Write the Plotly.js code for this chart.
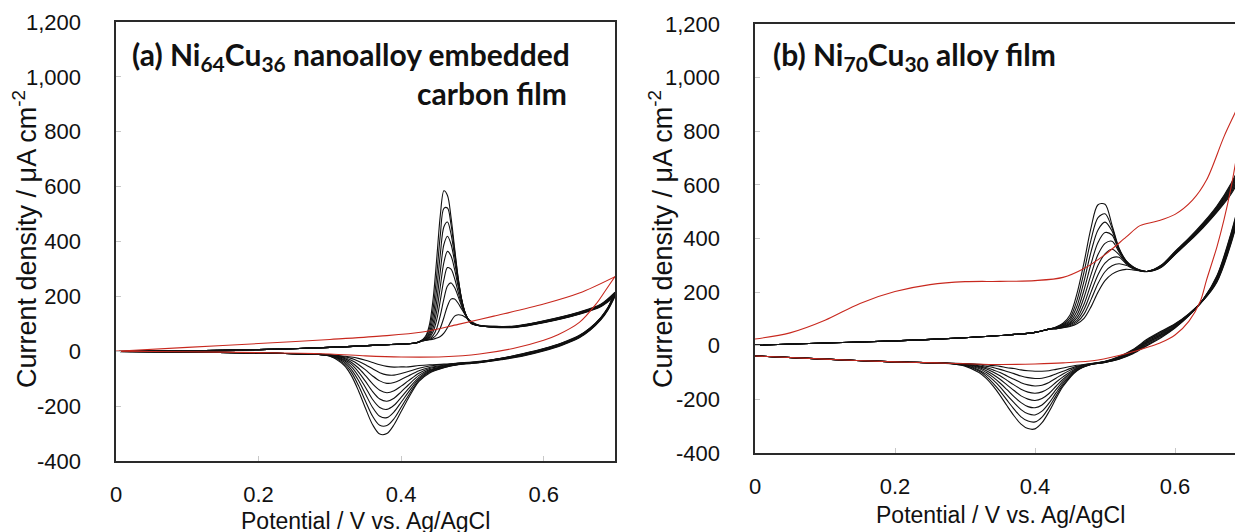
<!DOCTYPE html>
<html>
<head>
<meta charset="utf-8">
<script src="https://cdn.plot.ly/plotly-3.0.1.min.js"></script>
<style>html,body{margin:0;padding:0;background:#fff;}#chart{width:1235px;height:532px;}</style>
</head>
<body>
<div id="chart"></div>
<script>
// ---------- Panel (a): Ni64Cu36 nanoalloy embedded carbon film ----------
const aFwdV = [0, 0.1, 0.2, 0.3, 0.38, 0.42, 0.43, 0.435, 0.44, 0.445, 0.45, 0.455, 0.46, 0.465, 0.47, 0.475, 0.48, 0.485, 0.49, 0.495, 0.5, 0.51, 0.53, 0.56, 0.6, 0.65, 0.68, 0.7];
const aFwd1 = [-1, 2, 6, 14, 24, 30, 42, 58, 101, 194, 340, 497, 585, 568, 488, 376, 268, 186, 135, 110, 98, 93, 87, 87, 104, 135, 162, 200];
const aFwd2 = [-1, 2, 6, 14, 24, 30, 41, 53, 85, 158, 280, 425, 521, 522, 461, 365, 266, 188, 138, 111, 99, 93, 88, 88, 105, 136, 164, 203];
const aFwd3 = [-1, 2, 6, 14, 24, 30, 40, 48, 72, 128, 228, 355, 454, 471, 427, 347, 259, 187, 139, 112, 100, 93, 88, 88, 106, 137, 165, 205];
const aFwd4 = [-1, 2, 6, 14, 24, 30, 39, 46, 63, 104, 184, 293, 389, 419, 390, 326, 250, 184, 139, 113, 101, 93, 89, 89, 106, 138, 166, 207];
const aFwd5 = [-1, 2, 6, 14, 24, 30, 39, 43, 56, 86, 147, 237, 324, 364, 347, 298, 236, 179, 138, 113, 101, 93, 89, 90, 107, 139, 167, 209];
const aFwd6 = [-1, 2, 6, 14, 24, 30, 38, 42, 51, 72, 116, 186, 261, 305, 299, 265, 216, 169, 134, 112, 101, 93, 90, 90, 108, 140, 168, 211];
const aFwd7 = [-1, 2, 6, 14, 24, 30, 38, 41, 46, 58, 84, 131, 191, 238, 249, 232, 199, 163, 133, 113, 102, 94, 90, 91, 109, 141, 169, 212];
const aFwd8 = [-1, 2, 6, 14, 24, 30, 38, 40, 43, 49, 61, 85, 123, 165, 190, 190, 175, 153, 132, 115, 103, 94, 91, 91, 110, 142, 170, 214];
const aFwd9 = [-1, 2, 6, 14, 24, 30, 38, 40, 42, 44, 48, 54, 66, 86, 109, 128, 133, 131, 124, 115, 106, 95, 91, 92, 111, 143, 171, 215];

const aRevV = [0.7, 0.69, 0.68, 0.665, 0.65, 0.625, 0.6, 0.57, 0.54, 0.51, 0.48, 0.46, 0.44, 0.425, 0.41, 0.4, 0.39, 0.38, 0.37, 0.36, 0.35, 0.34, 0.33, 0.32, 0.3, 0.28, 0.25, 0.2, 0.1, 0];
const aRev1 = [200, 150, 114, 76, 49, 21, 1, -18, -31, -42, -49, -60, -79, -110, -172, -220, -268, -300, -302, -268, -208, -143, -88, -51, -18, -11, -9, -6, -3, -1];
const aRev2 = [203, 152, 116, 78, 51, 23, 3, -16, -30, -41, -48, -59, -76, -106, -162, -204, -246, -271, -270, -237, -182, -124, -76, -45, -17, -11, -9, -6, -3, -1];
const aRev3 = [205, 153, 117, 79, 52, 24, 4, -15, -29, -40, -48, -57, -73, -101, -150, -186, -221, -242, -237, -205, -156, -106, -66, -39, -16, -11, -9, -6, -3, -1];
const aRev4 = [207, 154, 118, 80, 53, 25, 5, -14, -28, -40, -47, -56, -70, -95, -137, -168, -197, -212, -205, -176, -132, -90, -56, -34, -15, -11, -9, -6, -3, -1];
const aRev5 = [209, 155, 119, 81, 54, 26, 6, -13, -28, -39, -46, -55, -67, -88, -123, -148, -171, -182, -174, -147, -110, -75, -47, -30, -15, -11, -9, -6, -3, -1];
const aRev6 = [211, 156, 120, 82, 55, 27, 7, -12, -27, -39, -46, -53, -63, -80, -108, -127, -144, -151, -142, -119, -89, -61, -40, -26, -14, -11, -9, -6, -3, -1];
const aRev7 = [212, 157, 121, 83, 56, 28, 8, -11, -27, -38, -44, -51, -59, -71, -90, -103, -114, -117, -108, -90, -68, -48, -33, -23, -14, -11, -9, -6, -3, -1];
const aRev8 = [214, 158, 122, 84, 57, 29, 9, -10, -26, -38, -44, -49, -54, -62, -74, -81, -87, -86, -78, -64, -49, -36, -26, -20, -13, -11, -9, -6, -3, -1];
const aRev9 = [215, 159, 123, 85, 58, 30, 10, -9, -26, -37, -43, -47, -49, -52, -57, -57, -58, -55, -49, -41, -33, -26, -21, -18, -13, -11, -9, -6, -3, -1];

const aRedFwdV = [0, 0.1, 0.2, 0.3, 0.37, 0.43, 0.48, 0.53, 0.6, 0.65, 0.7];
const aRedFwdI = [0, 14, 28, 43, 55, 70, 98, 128, 172, 212, 272];
const aRedRevV = [0.7, 0.685, 0.674, 0.65, 0.62, 0.6, 0.557, 0.51, 0.46, 0.4, 0.35, 0.3, 0.2, 0.1, 0];
const aRedRevI = [272, 215, 174, 105, 60, 40, 10, -10, -20, -21, -17, -10, -5, -2, 0];

// ---------- Panel (b): Ni70Cu30 alloy film ----------
const bFwdV = [0, 0.1, 0.2, 0.3, 0.35, 0.4, 0.42, 0.43, 0.44, 0.45, 0.46, 0.47, 0.48, 0.49, 0.5, 0.51, 0.52, 0.53, 0.54, 0.55, 0.56, 0.58, 0.6, 0.62, 0.64, 0.66, 0.68, 0.7];
const bFwd1 = [2, 10, 18, 30, 38, 50, 62, 70, 84, 115, 195, 310, 440, 526, 528, 450, 365, 318, 295, 282, 277, 292, 340, 388, 440, 498, 565, 660];
const bFwd2 = [2, 10, 18, 30, 38, 50, 62, 69, 80, 104, 170, 275, 395, 478, 492, 440, 362, 317, 294, 282, 277, 293, 341, 390, 442, 501, 570, 667];
const bFwd3 = [2, 10, 18, 30, 38, 50, 62, 68, 77, 96, 148, 240, 350, 432, 461, 428, 358, 316, 293, 281, 277, 294, 343, 392, 444, 504, 575, 674];
const bFwd4 = [2, 10, 18, 30, 38, 50, 62, 67, 75, 90, 130, 208, 305, 385, 422, 413, 354, 314, 292, 281, 277, 295, 344, 394, 446, 507, 580, 681];
const bFwd5 = [2, 10, 18, 30, 38, 50, 62, 66, 73, 85, 115, 180, 265, 340, 382, 390, 350, 312, 291, 281, 277, 296, 346, 395, 448, 510, 585, 688];
const bFwd6 = [2, 10, 18, 30, 38, 50, 62, 65, 71, 81, 104, 155, 230, 300, 343, 360, 340, 309, 290, 280, 277, 297, 347, 397, 451, 513, 590, 695];
const bFwd7 = [2, 10, 18, 30, 38, 50, 62, 64, 69, 78, 95, 135, 200, 265, 308, 328, 330, 306, 289, 280, 277, 298, 349, 398, 453, 516, 595, 702];
const bFwd8 = [2, 10, 18, 30, 38, 50, 62, 64, 68, 75, 88, 118, 172, 232, 276, 298, 306, 300, 288, 280, 277, 299, 350, 400, 455, 519, 600, 709];
const bFwd9 = [2, 10, 18, 30, 38, 50, 62, 63, 67, 72, 82, 102, 145, 200, 243, 267, 280, 285, 283, 279, 276, 300, 352, 402, 458, 522, 605, 716];

const bRevV = [0.7, 0.69, 0.68, 0.66, 0.64, 0.62, 0.6, 0.58, 0.56, 0.54, 0.52, 0.5, 0.48, 0.46, 0.44, 0.43, 0.42, 0.41, 0.4, 0.39, 0.38, 0.37, 0.36, 0.35, 0.34, 0.33, 0.32, 0.3, 0.28, 0.26, 0.2, 0.1, 0];
const bRev1 = [660, 520, 420, 262, 172, 112, 66, 30, 0, -30, -50, -62, -70, -93, -152, -197, -246, -287, -310, -309, -292, -261, -224, -185, -150, -121, -100, -76, -67, -64, -60, -50, -38];
const bRev2 = [667, 515, 415, 259, 172, 113, 68, 33, 3, -28, -49, -62, -70, -92, -147, -187, -230, -266, -284, -281, -265, -236, -203, -169, -139, -113, -94, -74, -67, -64, -60, -50, -38];
const bRev3 = [674, 510, 410, 256, 171, 114, 70, 36, 6, -26, -48, -61, -69, -90, -140, -176, -214, -244, -258, -254, -238, -212, -184, -153, -127, -106, -90, -73, -66, -64, -60, -50, -38];
const bRev4 = [681, 505, 405, 253, 171, 115, 72, 39, 9, -24, -47, -61, -69, -88, -133, -164, -196, -221, -231, -227, -212, -190, -164, -139, -117, -99, -85, -71, -66, -64, -60, -50, -38];
const bRev5 = [688, 500, 400, 250, 170, 116, 74, 42, 12, -22, -46, -60, -69, -86, -125, -151, -178, -197, -204, -199, -187, -167, -146, -125, -107, -92, -81, -70, -66, -64, -60, -50, -38];
const bRev6 = [695, 495, 395, 247, 170, 117, 76, 45, 15, -20, -45, -60, -68, -83, -116, -136, -158, -172, -177, -173, -162, -146, -129, -112, -98, -86, -78, -69, -66, -64, -60, -50, -38];
const bRev7 = [702, 490, 390, 244, 169, 118, 78, 48, 18, -18, -44, -59, -68, -80, -105, -121, -137, -147, -150, -146, -138, -125, -113, -100, -90, -81, -75, -68, -65, -64, -60, -50, -38];
const bRev8 = [709, 485, 385, 241, 169, 119, 80, 51, 21, -16, -42, -59, -67, -77, -95, -105, -115, -121, -122, -119, -113, -104, -96, -88, -81, -76, -71, -67, -65, -64, -60, -50, -38];
const bRev9 = [716, 480, 380, 238, 168, 120, 82, 54, 24, -14, -40, -58, -66, -73, -83, -88, -93, -95, -95, -93, -90, -85, -82, -77, -74, -71, -69, -66, -65, -64, -60, -50, -38];

const bRedFwdV = [0, 0.05, 0.1, 0.15, 0.2, 0.25, 0.3, 0.35, 0.4, 0.44, 0.47, 0.5, 0.53, 0.55, 0.575, 0.6, 0.625, 0.645, 0.67, 0.686, 0.7];
const bRedFwdI = [25, 48, 95, 158, 202, 228, 239, 240, 243, 255, 288, 340, 405, 448, 465, 490, 543, 618, 780, 870, 950];
const bRedRevV = [0.7, 0.69, 0.68, 0.67, 0.66, 0.645, 0.636, 0.62, 0.6, 0.58, 0.564, 0.53, 0.49, 0.44, 0.4, 0.35, 0.3, 0.26, 0.2, 0.1, 0];
const bRedRevI = [950, 740, 590, 470, 370, 245, 165, 92, 40, 12, -3, -30, -53, -64, -68, -70, -67, -64, -60, -50, -38];

// tick labels
const xTickVals = [0, 0.2, 0.4, 0.6];
const xTickText = ['0', '0.2', '0.4', '0.6'];
const yTickVals = [-400, -200, 0, 200, 400, 600, 800, 1000, 1200];
const yTickText = ['-400', '-200', '0', '200', '400', '600', '800', '1,000', '1,200'];

// texts
const titleA1 = '(a) Ni<sub>64</sub>Cu<sub>36</sub> nanoalloy embedded';
const titleA2 = 'carbon film';
const titleB = '(b) Ni<sub>70</sub>Cu<sub>30</sub> alloy film';
const xTitle = 'Potential / V vs. Ag/AgCl';
const yTitle = 'Current density / μA cm<sup>-2</sup>';

const BLACK = '#111111';
const RED = '#c8281e';

function line(x, y, ax, color) {
  return {
    x: x, y: y, xaxis: ax === 'a' ? 'x' : 'x2', yaxis: ax === 'a' ? 'y' : 'y2',
    type: 'scatter', mode: 'lines', hoverinfo: 'skip', showlegend: false,
    line: {color: color, width: 1.1, shape: 'spline', smoothing: 0.9}
  };
}

const traces = [];
[aFwd1, aFwd2, aFwd3, aFwd4, aFwd5, aFwd6, aFwd7, aFwd8, aFwd9].forEach(y => traces.push(line(aFwdV, y, 'a', BLACK)));
[aRev1, aRev2, aRev3, aRev4, aRev5, aRev6, aRev7, aRev8, aRev9].forEach(y => traces.push(line(aRevV, y, 'a', BLACK)));
traces.push(line(aRedFwdV, aRedFwdI, 'a', RED));
traces.push(line(aRedRevV, aRedRevI, 'a', RED));
[bFwd1, bFwd2, bFwd3, bFwd4, bFwd5, bFwd6, bFwd7, bFwd8, bFwd9].forEach(y => traces.push(line(bFwdV, y, 'b', BLACK)));
[bRev1, bRev2, bRev3, bRev4, bRev5, bRev6, bRev7, bRev8, bRev9].forEach(y => traces.push(line(bRevV, y, 'b', BLACK)));
traces.push(line(bRedFwdV, bRedFwdI, 'b', RED));
traces.push(line(bRedRevV, bRedRevI, 'b', RED));

const W = 1235, H = 532;
const tickFont = {family: 'Liberation Sans, Arial, sans-serif', size: 22, color: '#111'};
function xAxis(domain, range, anchor) {
  return {
    domain: domain, range: range, anchor: anchor,
    tickmode: 'array', tickvals: xTickVals, ticktext: xTickText,
    ticks: 'inside', ticklen: 5, tickwidth: 1, tickcolor: '#c8c8c8',
    showline: true, linecolor: '#2a2a2a', linewidth: 1.6, mirror: true,
    showgrid: false, zeroline: false, tickfont: tickFont,
    ticklabelstandoff: 13, automargin: false, fixedrange: true
  };
}
function yAxis(domain, anchor, mirror) {
  return {
    domain: domain, range: [-400, 1200], anchor: anchor,
    tickmode: 'array', tickvals: yTickVals, ticktext: yTickText,
    ticks: 'inside', ticklen: 5, tickwidth: 1, tickcolor: '#c8c8c8',
    showline: true, linecolor: '#2a2a2a', linewidth: 1.6, mirror: mirror,
    showgrid: false, zeroline: false, tickfont: tickFont,
    ticklabelstandoff: 29, automargin: false, fixedrange: true
  };
}

const labelFont = {family: 'Lato, Open Sans, sans-serif', size: 30, color: '#111', weight: 700};
const xTitleFont = {family: 'Liberation Sans, Arial, sans-serif', size: 23, color: '#111'};
const yTitleFont = {family: 'Liberation Sans, Arial, sans-serif', size: 27, color: '#111'};

const layout = {
  width: W, height: H,
  margin: {l: 0, r: 0, t: 0, b: 0, pad: 0},
  paper_bgcolor: '#fff', plot_bgcolor: '#fff',
  showlegend: false,
  xaxis: xAxis([116 / W, 615 / W], [0, 0.7], 'y'),
  yaxis: yAxis([1 - 461 / H, 1 - 22 / H], 'x', true),
  xaxis2: xAxis([755 / W, 1], [0, 0.6857], 'y2'),
  yaxis2: yAxis([1 - 453 / H, 1 - 24 / H], 'x2', false),
  annotations: [
    {text: titleA1, xref: 'paper', yref: 'paper', x: 130 / W, y: 1 - 56 / H, xanchor: 'left', yanchor: 'middle', showarrow: false, font: labelFont},
    {text: titleA2, xref: 'paper', yref: 'paper', x: 569 / W, y: 1 - 93 / H, xanchor: 'right', yanchor: 'middle', showarrow: false, font: labelFont},
    {text: titleB, xref: 'paper', yref: 'paper', x: 771 / W, y: 1 - 56 / H, xanchor: 'left', yanchor: 'middle', showarrow: false, font: labelFont},
    {text: xTitle, xref: 'paper', yref: 'paper', x: 365 / W, y: 1 - 521 / H, xanchor: 'center', yanchor: 'middle', showarrow: false, font: xTitleFont},
    {text: xTitle, xref: 'paper', yref: 'paper', x: 1000 / W, y: 1 - 515 / H, xanchor: 'center', yanchor: 'middle', showarrow: false, font: xTitleFont},
    {text: yTitle, xref: 'paper', yref: 'paper', x: 25 / W, y: 1 - 239 / H, xanchor: 'center', yanchor: 'middle', textangle: -90, showarrow: false, font: yTitleFont},
    {text: yTitle, xref: 'paper', yref: 'paper', x: 661 / W, y: 1 - 239 / H, xanchor: 'center', yanchor: 'middle', textangle: -90, showarrow: false, font: yTitleFont}
  ]
};

Plotly.newPlot('chart', traces, layout, {staticPlot: true, displayModeBar: false});
</script>
</body>
</html>
